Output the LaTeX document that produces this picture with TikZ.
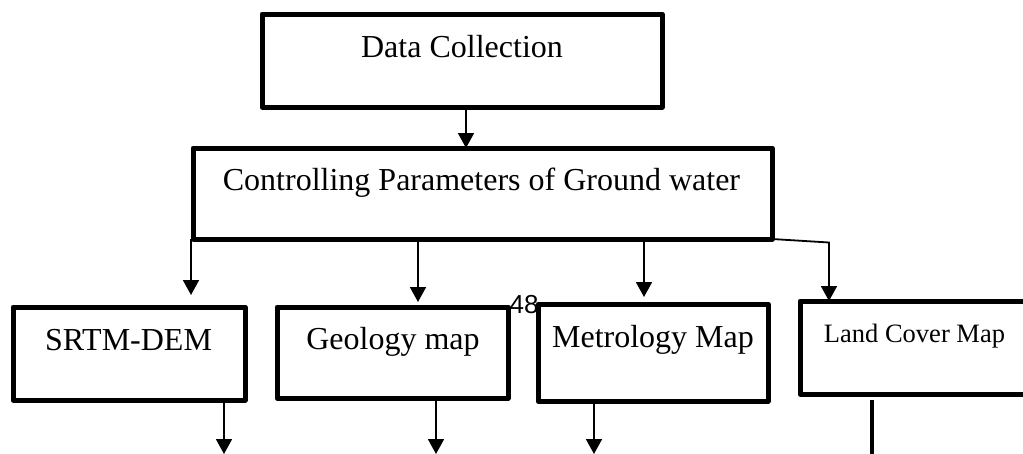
\documentclass[tikz,border=0pt]{standalone}
\usepackage{fontspec}
\setmainfont{Liberation Serif}
\newfontfamily\numfont{Liberation Sans}
\usetikzlibrary{arrows.meta}

\begin{document}
\begin{tikzpicture}[x=1pt,y=-1pt,
  box/.style={draw=black, line width=5pt, line join=round, fill=none,
    inner sep=0pt, outer sep=0pt},
  lbl/.style={anchor=base, inner sep=0pt, font=\fontsize{32}{38}\selectfont},
  lblsmall/.style={anchor=base, inner sep=0pt, font=\fontsize{26.5}{31}\selectfont},
  arr/.style={line width=1.8pt, -{Triangle[length=15pt,width=16pt]}},
  plain/.style={line width=1.8pt}
]
\useasboundingbox (0,0) rectangle (1023,453);
\clip (0,0) rectangle (1023,453);

% boxes
\node[box, minimum width=400pt, minimum height=93pt] (dc)   at (462,60.5)   {};
\node[box, minimum width=579pt, minimum height=91pt] (cp)   at (482.5,193.5) {};
\node[box, minimum width=232pt, minimum height=93pt] (srtm) at (129,353.5)  {};
\node[box, minimum width=231pt, minimum height=91pt] (geo)  at (392.5,352.5) {};
\node[box, minimum width=230pt, minimum height=97pt] (met)  at (653,352.5)  {};
\node[box, minimum width=230pt, minimum height=93pt] (land) at (915,347.5)  {};

% box labels
\node[lbl] (dct)   at (462,57)   {Data Collection};
\node[lbl] (cpt)   at (481.5,190) {Controlling Parameters of Ground water};
\node[lbl] (srtmt) at (128.5,350) {SRTM-DEM};
\node[lbl] (geot)  at (393,349)  {Geology map};
\node[lbl] (mett)  at (653,347)  {Metrology Map};
\node[lblsmall] (landt) at (914.5,342) {Land Cover Map};

% page number
\node[anchor=base, inner sep=0pt, font=\numfont\fontsize{26}{30}\selectfont] (pg) at (524,313) {48};

% connectors between levels
\draw[arr] ([xshift=4pt]dc.south) -- ([xshift=4pt]dc.south |- cp.north);
\draw[arr] ([xshift=-2pt]cp.south west) -- ([xshift=-2pt,yshift=12pt]cp.south west |- srtm.north);
\draw[arr] ([xshift=25.5pt]geo.north |- cp.south) -- ([xshift=25.5pt,yshift=5pt]geo.north);
\draw[arr] ([xshift=-9pt]met.north |- cp.south) -- ([xshift=-9pt,yshift=7pt]met.north);
\coordinate (lc) at (829,242.5);
\draw[arr] (cp.south east) -- (lc) -- (lc |- land.north);

% outgoing connectors to the next level
\coordinate (s1) at (224,454);
\coordinate (s2) at (436,454);
\coordinate (s3) at (594,454);
\coordinate (s4) at (872,454);
\draw[arr] (srtm.south -| s1) -- (s1);
\draw[arr] (geo.south -| s2) -- (s2);
\draw[arr] (met.south -| s3) -- (s3);
\draw[line width=3.3pt] ([yshift=-6pt]land.south -| s4) -- (s4);
\end{tikzpicture}
\end{document}
